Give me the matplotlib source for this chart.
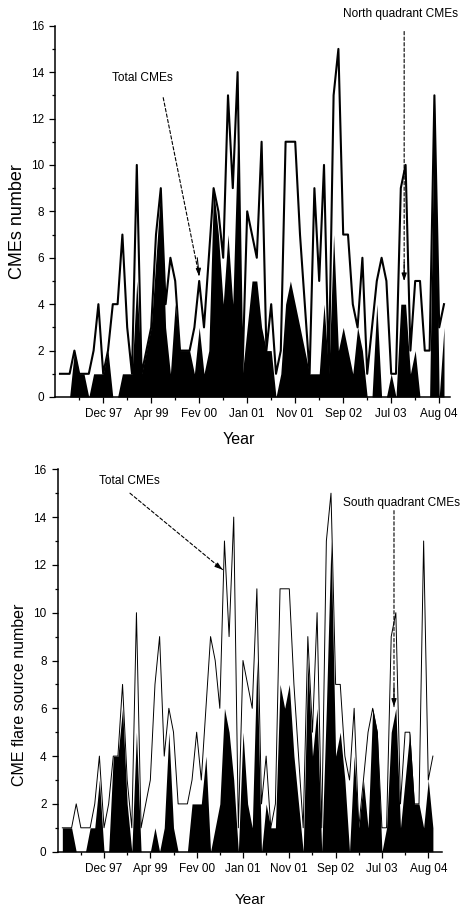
import numpy as np
import matplotlib
matplotlib.use("Agg")
import matplotlib.pyplot as plt

plt.rcParams['font.family'] = ['Liberation Sans', 'DejaVu Sans']

# monthly-ish samples, index 1..81
total_cmes = [1, 1, 1, 2, 1, 1, 1, 2, 4, 1,
              2, 4, 4, 7, 3, 1, 10, 1, 2, 3,
              7, 9, 4, 6, 5, 2, 2, 2, 3, 5,
              3, 6, 9, 8, 6, 13, 9, 14, 1, 8,
              7, 6, 11, 2, 4, 1, 2, 11, 11, 11,
              7, 4, 1, 9, 5, 10, 1, 13, 15, 7,
              7, 4, 3, 6, 1, 3, 5, 6, 5, 1,
              1, 9, 10, 2, 5, 5, 2, 2, 13, 3,
              4]
north_cmes = [0, 0, 0, 2, 1, 1, 0, 1, 1, 1,
              2, 0, 0, 1, 1, 1, 5, 1, 2, 3,
              6, 9, 3, 1, 4, 2, 2, 2, 1, 3,
              1, 2, 9, 7, 4, 7, 4, 11, 1, 3,
              5, 5, 3, 2, 2, 0, 1, 4, 5, 4,
              3, 2, 1, 1, 1, 4, 1, 7, 2, 3,
              2, 1, 3, 2, 0, 0, 4, 0, 0, 1,
              0, 4, 4, 1, 2, 0, 0, 0, 13, 0,
              3]
south_cmes = [1, 1, 1, 0, 0, 0, 1, 1, 3, 0,
              0, 4, 4, 6, 2, 0, 5, 0, 0, 0,
              1, 0, 1, 5, 1, 0, 0, 0, 2, 2,
              2, 4, 0, 1, 2, 6, 5, 3, 0, 5,
              2, 1, 8, 0, 2, 1, 1, 7, 6, 7,
              4, 2, 0, 8, 4, 6, 0, 6, 13, 4,
              5, 3, 0, 4, 1, 3, 1, 6, 5, 0,
              1, 5, 6, 1, 3, 5, 2, 2, 1, 3,
              1]
tick_pos = [10, 20, 30, 40, 50, 60, 70, 80]
tick_labels = ['Dec 97', 'Apr 99', 'Fev 00', 'Jan 01', 'Nov 01', 'Sep 02', 'Jul 03', 'Aug 04']

idx = np.arange(1, len(total_cmes) + 1)
W, H = 462, 909
note_size = 8.6

fig = plt.figure(figsize=(W / 100, H / 100), dpi=100)


def px_box(left, right, top, bottom):
    return [left / W, 1 - bottom / H, (right - left) / W, (bottom - top) / H]


def style_axis(ax, xmax):
    ax.set_xlim(0, xmax)
    ax.set_ylim(0, 16)
    ax.set_xticks(tick_pos)
    ax.set_xticklabels(tick_labels)
    ax.set_xticks(np.arange(5, 85, 10), minor=True)
    ax.set_yticks(np.arange(0, 17, 2))
    ax.set_yticks(np.arange(1, 16, 2), minor=True)
    for s in ['top', 'right']:
        ax.spines[s].set_visible(False)
    for s in ['left', 'bottom']:
        ax.spines[s].set_linewidth(1.1)
    ax.tick_params(which='major', direction='out', length=4.5, width=0.9, labelsize=8.5)
    ax.tick_params(which='minor', direction='out', length=2.3, width=0.9)


def dashed_arrow(ax, start, end, head_from):
    ax.annotate('', xy=end, xytext=start,
                arrowprops=dict(arrowstyle='-', linestyle=(0, (3, 2)), lw=0.8,
                                color='black', shrinkA=0, shrinkB=0))
    ax.annotate('', xy=end, xytext=head_from,
                arrowprops=dict(arrowstyle='-|>,head_length=0.45,head_width=0.15',
                                lw=0.8, color='black', shrinkA=0, shrinkB=0))


# top panel: north
ax1 = fig.add_axes(px_box(55.2, 450, 25.7, 397))
ax1.fill_between(idx, 0, north_cmes, color='black', lw=0)
ax1.plot(idx, total_cmes, color='black', lw=1.5)
style_axis(ax1, 82.25)
ax1.text(18.2, 13.75, 'Total CMEs', fontsize=note_size, ha='center', va='center')
dashed_arrow(ax1, (22.5, 12.9), (30.0, 5.2), (29.6, 6.0))
ax1.text(72.0, 16.5, 'North quadrant CMEs', fontsize=note_size,
         ha='center', va='center', clip_on=False)
dashed_arrow(ax1, (72.7, 15.75), (72.7, 5.0), (72.7, 5.8))
fig.text(18 / W, 1 - 222 / H, 'CMEs number', rotation=90, ha='center', va='center', fontsize=13)
fig.text(239 / W, 1 - 440 / H, 'Year', ha='center', va='center', fontsize=11.5)

# bottom panel: south
ax2 = fig.add_axes(px_box(57.7, 441.7, 469.3, 851.7))
ax2.fill_between(idx, 0, south_cmes, color='black', lw=0)
ax2.plot(idx, total_cmes, color='black', lw=0.7)
style_axis(ax2, 82.9)
ax2.text(15.4, 15.5, 'Total CMEs', fontsize=note_size, ha='center', va='center')
dashed_arrow(ax2, (15.6, 15.0), (35.6, 11.8), (34.6, 11.95))
ax2.text(74.3, 14.6, 'South quadrant CMEs', fontsize=note_size,
         ha='center', va='center', clip_on=False)
dashed_arrow(ax2, (72.6, 14.27), (72.6, 6.07), (72.6, 6.9))
fig.text(20 / W, 1 - 695 / H, 'CME flare source number', rotation=90, ha='center', va='center', fontsize=11.5)
fig.text(250 / W, 1 - 900 / H, 'Year', ha='center', va='center', fontsize=11)

fig.savefig('out.png', dpi=100)
